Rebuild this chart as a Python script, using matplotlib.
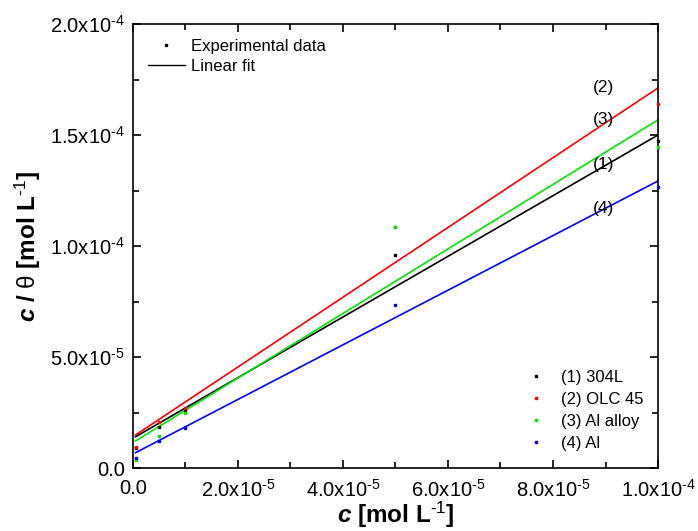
import matplotlib
matplotlib.use("Agg")
import matplotlib.pyplot as plt
from matplotlib.lines import Line2D
from matplotlib.ticker import MultipleLocator, FuncFormatter
import numpy as np

plt.rcParams['font.family'] = 'Liberation Sans'
plt.rcParams['mathtext.fontset'] = 'custom'
plt.rcParams['mathtext.rm'] = 'Liberation Sans'
plt.rcParams['mathtext.it'] = 'Liberation Sans:italic'
plt.rcParams['mathtext.bf'] = 'Liberation Sans:bold'
plt.rcParams['mathtext.bfit'] = 'Liberation Sans:bold:italic'

# concentration [mol/L]
conc = [5e-7, 5e-6, 1e-5, 5e-5, 1e-4]

# c/theta for each material
y_304L = [8.9e-6, 18.6e-6, 26.1e-6, 95.9e-6, 147.5e-6]
y_olc45 = [9.6e-6, 20.9e-6, 26.9e-6, 108.4e-6, 164.0e-6]
y_alalloy = [3.8e-6, 14.4e-6, 24.6e-6, 108.4e-6, 144.5e-6]
y_al = [4.4e-6, 12.2e-6, 18.2e-6, 73.4e-6, 126.8e-6]

# linear fit parameters (slope, intercept)
slopes = [1.366, 1.571, 1.453, 1.230]
intercepts = [13.4e-6, 14.1e-6, 11.5e-6, 6.3e-6]

series = [y_304L, y_olc45, y_alalloy, y_al]
names = ['(1) 304L', '(2) OLC 45', '(3) Al alloy', '(4) Al']
colors = ['black', '#ff0000', '#00e600', '#0000ff']

tags = ['(1)', '(2)', '(3)', '(4)']
tag_y = [136.5e-6, 171.6e-6, 156.8e-6, 117.1e-6]

fig = plt.figure(figsize=(6.98, 5.31), dpi=100)
ax = fig.add_axes([0.1905, 0.1186, 0.7522, 0.8362])

xfit = np.array([conc[0], conc[-1]])
for vals, s, b, col, name in zip(series, slopes, intercepts, colors, names):
    ax.plot(xfit, s * xfit + b, color=col, lw=1.2, zorder=2)
    ax.plot(conc, vals, 's', color=col, ms=1.9, ls='none', label=name, zorder=3, clip_on=False)

for t, ty in zip(tags, tag_y):
    ax.text(8.97e-5, ty, t, fontsize=12.5, ha='center', va='center')

ax.set_xlim(0, 1e-4)
ax.set_ylim(0, 2e-4)

def sci(v, pos):
    if v == 0:
        return '0.0'
    e = int(np.floor(np.log10(abs(v)) + 1e-9))
    m = v / 10 ** e
    return r'%.1fx10$^{\text{%d}}$' % (m, e)

ax.xaxis.set_major_locator(MultipleLocator(2e-5))
ax.xaxis.set_minor_locator(MultipleLocator(1e-5))
ax.yaxis.set_major_locator(MultipleLocator(5e-5))
ax.yaxis.set_minor_locator(MultipleLocator(2.5e-5))
ax.xaxis.set_major_formatter(FuncFormatter(sci))
ax.yaxis.set_major_formatter(FuncFormatter(sci))
ax.tick_params(which='both', direction='in', top=True, right=True, width=1.2)
ax.tick_params(which='major', length=6, labelsize=14.5)
ax.tick_params(axis='x', which='major', pad=8)
ax.tick_params(axis='y', which='major', pad=6)
ax.tick_params(which='minor', length=4)
for sp in ax.spines.values():
    sp.set_linewidth(1.2)

ax.set_xlabel(r'$\mathbfit{c}$ [mol L$^{\mathbf{\text{-1}}}$]', fontsize=17.5, fontweight='bold', labelpad=-1)
ax.set_ylabel(r'$\mathbfit{c}$ / $\mathrm{\theta}$ [mol L$^{\mathbf{\text{-1}}}$]', fontsize=17.5,
              fontweight='bold', labelpad=5)

leg2 = ax.legend(loc='lower right', frameon=False, fontsize=12, handlelength=1.0,
                 handletextpad=1.0, labelspacing=0.42, markerscale=1.0,
                 bbox_to_anchor=(1.0, 0.005))
ax.add_artist(leg2)

handles = [Line2D([], [], marker='s', color='black', ms=1.9, ls='none'),
           Line2D([], [], color='black', lw=1.0)]
ax.legend(handles, ['Experimental data', 'Linear fit'], loc='upper left', frameon=False,
          fontsize=12, handlelength=2.2, handletextpad=0.4, labelspacing=0.3,
          bbox_to_anchor=(0.0, 1.0))

fig.savefig('out.png', dpi=100)
